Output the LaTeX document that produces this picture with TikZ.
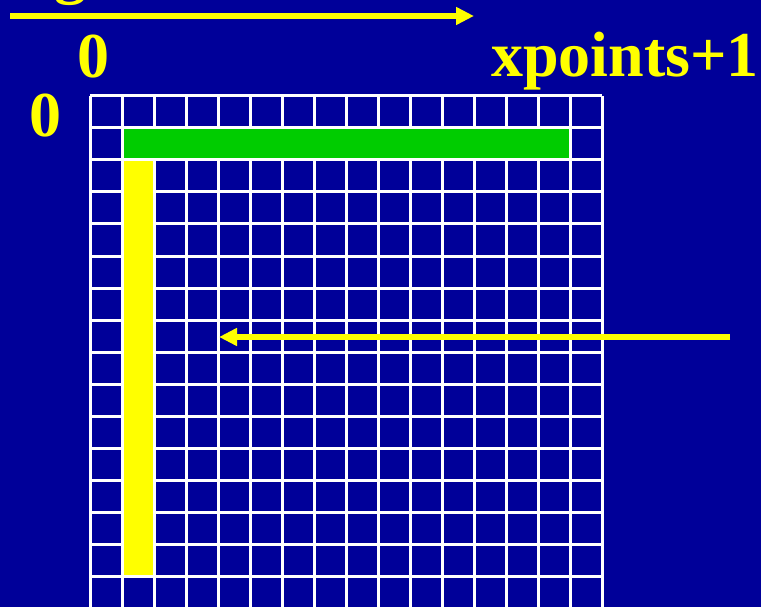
\documentclass[tikz,border=0pt]{standalone}
\usepackage{fontspec}
\setmainfont{Liberation Serif}
\usepackage{xcolor}
\usepackage{tikz}
\usetikzlibrary{arrows.meta, positioning, calc}
\definecolor{fondo}{RGB}{0,0,153}
\definecolor{verde}{RGB}{0,204,0}
\definecolor{amarillo}{RGB}{255,255,0}
\tikzstyle{arrow} = [line width=6pt, draw=amarillo, -{Triangle[length=18pt,width=17pt]}]
\tikzstyle{label} = [text=amarillo, font=\fontsize{64}{64}\selectfont\bfseries, inner sep=0pt, anchor=base]
\tikzstyle{gridline} = [draw=white, line width=3pt]

\begin{document}
\begin{tikzpicture}[x=1pt, y=-1pt]
    % Fondo
    \fill[fondo] (0,0) rectangle (761,607);
    \useasboundingbox (0,0) rectangle (761,607);

    % Etiquetas
    \node (g) [label] at (70,-8) {g};
    \node (cero1) [label] at (93,78) {0};
    \node (cero2) [label] at (45,137) {0};
    \node (xp) [label] at (625,77) {xpoints+1};

    % Malla
    \foreach \i in {0,...,16} {
        \draw[gridline] ({90+32*\i},96) -- ({90+32*\i},608);
        \draw[gridline] (90,{96+32*\i}) -- (602,{96+32*\i});
    }

    % Celdas de frontera
    \fill[verde] (123.5,129.5) rectangle (568.5,158.5);
    \fill[amarillo] (123.5,161.5) rectangle (152.5,574.5);

    % Flechas
    \coordinate (a1) at (10,16);
    \coordinate (b1) at (474,16);
    \coordinate (a2) at (730,337);
    \coordinate (b2) at (219,337);
    \draw [arrow] (a1) -- (b1);
    \draw [arrow] (a2) -- (b2);
\end{tikzpicture}
\end{document}
